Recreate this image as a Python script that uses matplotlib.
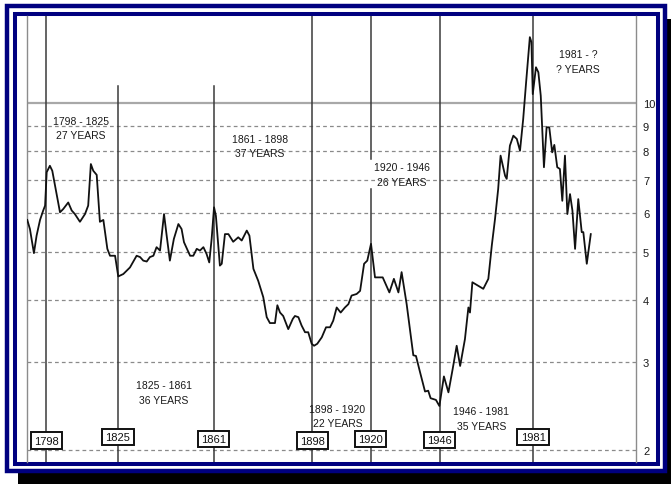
import matplotlib
matplotlib.use("Agg")
import matplotlib.pyplot as plt
import matplotlib.transforms as mtransforms
from matplotlib.patches import Rectangle
from matplotlib.ticker import NullLocator

# ---------------- DATA ----------------

years = [
    1790.9, 1791.9, 1793.4, 1794.4, 1795.7, 1796.9, 1797.6, 1798.2, 1799.4, 1800.3,
    1803.2, 1804.4, 1806.3, 1807.6, 1808.8, 1810.7, 1812.6, 1813.8, 1814.8, 1815.7,
    1817.0, 1818.2, 1819.5, 1821.0, 1822.0, 1823.9, 1825.1, 1827.0, 1829.5, 1832.0,
    1833.3, 1834.5, 1835.8, 1837.0, 1838.3, 1839.5, 1840.8, 1842.3, 1843.3, 1844.5,
    1846.0, 1847.7, 1848.9, 1849.8, 1852.1, 1853.3, 1854.6, 1855.8, 1857.1, 1858.3,
    1859.3, 1860.2, 1861.1, 1861.8, 1863.3, 1864.0, 1865.2, 1866.5, 1868.3, 1870.2,
    1871.5, 1873.4, 1874.4, 1875.9, 1877.7, 1879.6, 1880.9, 1882.1, 1884.0, 1884.9,
    1885.9, 1887.1, 1889.0, 1890.7, 1891.5, 1892.8, 1894.0, 1895.3, 1896.5, 1897.8,
    1898.7, 1899.9, 1901.6, 1903.2, 1904.7, 1905.9, 1907.2, 1908.7, 1910.3, 1911.6,
    1912.8, 1914.7, 1916.0, 1917.5, 1918.7, 1920.1, 1921.6, 1924.5, 1927.0, 1928.7,
    1930.4, 1931.6, 1933.5, 1936.0, 1937.0, 1938.5, 1940.4, 1941.6, 1942.5, 1944.5,
    1945.8, 1947.5, 1949.2, 1950.8, 1952.3, 1953.6, 1955.4, 1956.7, 1957.3, 1958.2,
    1960.4, 1962.3, 1964.2, 1965.5, 1966.7, 1967.9, 1968.8, 1970.5, 1971.1, 1972.3,
    1973.6, 1974.9, 1976.1, 1977.3, 1978.4, 1979.8, 1980.4, 1980.9, 1982.1, 1983.0,
    1983.9, 1985.1, 1986.1, 1987.1, 1988.2, 1989.0, 1990.1, 1991.1, 1992.0, 1993.0,
    1993.9, 1994.9, 1995.8, 1996.8, 1998.0, 1999.3, 1999.9, 2001.2, 2002.7,
]

rates = [
    5.81, 5.57, 4.98, 5.40, 5.81, 6.07, 6.21, 7.25, 7.47, 7.30,
    6.02, 6.11, 6.30, 6.07, 5.97, 5.76, 5.97, 6.21, 7.53, 7.30,
    7.16, 5.76, 5.81, 5.08, 4.92, 4.92, 4.47, 4.52, 4.66, 4.92,
    4.89, 4.81, 4.79, 4.89, 4.92, 5.12, 5.04, 5.97, 5.40, 4.81,
    5.32, 5.70, 5.57, 5.24, 4.92, 4.92, 5.08, 5.04, 5.12, 4.96,
    4.77, 5.32, 6.16, 5.92, 4.70, 4.74, 5.44, 5.44, 5.25, 5.36,
    5.28, 5.53, 5.40, 4.63, 4.38, 4.06, 3.70, 3.60, 3.60, 3.91,
    3.78, 3.72, 3.50, 3.67, 3.72, 3.70, 3.56, 3.45, 3.45, 3.27,
    3.24, 3.27, 3.37, 3.53, 3.53, 3.64, 3.87, 3.78, 3.87, 3.93,
    4.09, 4.12, 4.18, 4.74, 4.81, 5.20, 4.45, 4.45, 4.15, 4.42,
    4.15, 4.56, 3.93, 3.10, 3.09, 2.87, 2.62, 2.63, 2.54, 2.52,
    2.45, 2.81, 2.61, 2.91, 3.24, 2.95, 3.34, 3.87, 3.78, 4.35,
    4.28, 4.22, 4.42, 5.16, 5.83, 6.71, 7.83, 7.13, 7.03, 8.20,
    8.59, 8.46, 8.01, 9.28, 11.01, 13.57, 13.26, 10.42, 11.80, 11.53,
    10.34, 7.42, 8.93, 8.93, 7.95, 8.23, 7.42, 7.36, 6.35, 7.83,
    5.97, 6.55, 6.07, 5.08, 6.40, 5.49, 5.49, 4.74, 5.44,
]

cycle_years = [1798, 1825, 1861, 1898, 1920, 1946, 1981]
tick_values = [2, 3, 4, 5, 6, 7, 8, 9, 10]

cycle_text = [
    "1798 - 1825\n27 YEARS",
    "1825 - 1861\n36 YEARS",
    "1861 - 1898\n37 YEARS",
    "1898 - 1920\n22 YEARS",
    "1920 - 1946\n26 YEARS",
    "1946 - 1981\n35 YEARS",
    "1981 - ?\n? YEARS",
]
text_years = [1811.1, 1842.3, 1878.4, 1907.5, 1931.7, 1961.6, 1997.9]
text_rates = [8.91, 2.61, 8.19, 2.34, 7.18, 2.31, 12.12]

plt.rcParams["font.family"] = "Liberation Sans"

# ---------------- FIGURE + FRAME ----------------

W, H = 671, 485
fig = plt.figure(figsize=(W / 100, H / 100), dpi=100)
fig.patch.set_facecolor("white")


def px_rect(x0, y0, x1, y1, **kw):
    # pixel box (y measured from the top) -> figure rectangle
    return Rectangle((x0 / W, 1 - y1 / H), (x1 - x0) / W, (y1 - y0) / H,
                     transform=fig.transFigure, **kw)


navy = "#00007f"
fig.add_artist(px_rect(18, 20, 671, 485, facecolor="black", edgecolor="none", zorder=-3))
fig.add_artist(px_rect(7.2, 7.2, 665, 471.7, facecolor="white", edgecolor=navy,
                       linewidth=3.2, zorder=-2))
fig.add_artist(px_rect(15.3, 15.2, 657.5, 464.7, facecolor="white", edgecolor=navy,
                       linewidth=2.9, zorder=-1))

# ---------------- AXES ----------------

ax = fig.add_axes([27 / W, 1 - 463 / H, 609 / W, 446 / H])
ax.patch.set_alpha(0)
ax.set_yscale("log")
ax.set_xlim(1790.8, 2019.7)
ax.set_ylim(1.889, 14.97)

for side in ["top", "bottom"]:
    ax.spines[side].set_visible(False)
for side in ["left", "right"]:
    ax.spines[side].set_color("#8c8c8c")
    ax.spines[side].set_linewidth(1.0)

ax.set_xticks([])
ax.yaxis.tick_right()
ax.set_yticks(tick_values)
ax.set_yticklabels([str(v) for v in tick_values])
ax.yaxis.set_minor_locator(NullLocator())
ax.tick_params(axis="y", length=0, pad=5, labelsize=8, labelcolor="#1a1a1a")

# horizontal grid
for v in tick_values:
    if v == 10:
        ax.axhline(v, color="#a8a8a8", linewidth=1.6, zorder=1)
    else:
        ax.axhline(v, color="#8a8a8a", linewidth=0.9, linestyle=(0, (3, 2.5)), zorder=1)

# cycle lines
line_top = [1.0, 0.843, 0.843, 1.0, 1.0, 1.0, 1.0]
for yr, top in zip(cycle_years, line_top):
    if yr == 1920:
        ax.axvline(yr, ymin=0, ymax=0.612, color="#3a3a3a", linewidth=1.1, zorder=2)
        ax.axvline(yr, ymin=0.679, ymax=1.0, color="#3a3a3a", linewidth=1.1, zorder=2)
    else:
        ax.axvline(yr, ymin=0, ymax=top, color="#3a3a3a", linewidth=1.1, zorder=2)

# rate line
ax.plot(years, rates, color="#111111", linewidth=1.3, zorder=3)

# cycle text
for txt, yr, rt in zip(cycle_text, text_years, text_rates):
    ax.text(yr, rt, txt, ha="center", va="center", fontsize=7.5,
            color="#1a1a1a", linespacing=1.55, zorder=4)

# boxed year labels
blend = mtransforms.blended_transform_factory(ax.transData, ax.transAxes)
box_heights = [0.048, 0.056, 0.052, 0.048, 0.052, 0.050, 0.056]
for yr, hgt in zip(cycle_years, box_heights):
    ax.text(yr, hgt, str(yr), transform=blend, ha="center", va="center",
            fontsize=8, color="#111111", zorder=5,
            bbox=dict(boxstyle="square,pad=0.28", facecolor="white",
                      edgecolor="#111111", linewidth=1.4))

plt.savefig("out.png", dpi=100)
